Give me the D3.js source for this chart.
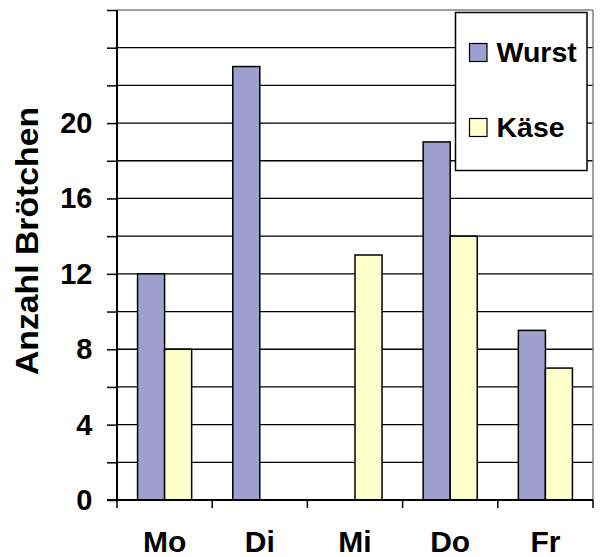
<!DOCTYPE html>
<html><head><meta charset="utf-8">
<script src="https://cdn.jsdelivr.net/npm/d3@7"></script>
<style>
html,body{margin:0;padding:0;background:#fff;}
svg text{font-family:"Liberation Sans",Arial,sans-serif;font-weight:bold;fill:#000;}
</style></head>
<body>
<svg id="chart" width="601" height="557"></svg>
<script>
const categories = ["Mo", "Di", "Mi", "Do", "Fr"];
const seriesNames = ["Wurst", "Käse"];
const wurst = [12, 23, 0, 19, 9];
const kaese = [8, 0, 13, 14, 7];
const yTicks = [0, 4, 8, 12, 16, 20];
const yGrid = [2, 4, 6, 8, 10, 12, 14, 16, 18, 20, 22, 24];
const colors = ["#9E9FCE", "#FFFFCC"];
const yTitle = "Anzahl Brötchen";

const svg = d3.select("#chart");
const L = 117, R = 593, T = 10, B = 500;

const x = d3.scaleBand().domain(categories).range([L, R]).padding(0);
const bw = x.bandwidth();
const x1 = d3.scaleBand().domain(seriesNames).range([0.216 * bw, 0.784 * bw]).padding(0);
const y = d3.scaleLinear().domain([0, 26]).range([B, T]);

// gridlines
svg.append("g").selectAll("line").data(yGrid).join("line")
  .attr("x1", L).attr("x2", R).attr("y1", d => y(d)).attr("y2", d => y(d))
  .attr("stroke", "#000").attr("stroke-width", 1.3);

// plot border (top/right gray)
svg.append("line").attr("x1", L).attr("x2", R).attr("y1", y(26)).attr("y2", y(26))
  .attr("stroke", "#808080").attr("stroke-width", 1.5);
svg.append("line").attr("x1", R).attr("x2", R).attr("y1", y(26)).attr("y2", B)
  .attr("stroke", "#808080").attr("stroke-width", 1.5);

// bars
const data = categories.map((c, i) => ({ cat: c, vals: [
  { s: seriesNames[0], v: wurst[i], c: colors[0] },
  { s: seriesNames[1], v: kaese[i], c: colors[1] }
]}));
const groups = svg.append("g").selectAll("g").data(data).join("g")
  .attr("transform", d => `translate(${x(d.cat)},0)`);
groups.selectAll("rect").data(d => d.vals.filter(v => v.v > 0)).join("rect")
  .attr("x", d => x1(d.s)).attr("width", x1.bandwidth())
  .attr("y", d => y(d.v)).attr("height", d => y(0) - y(d.v))
  .attr("fill", d => d.c).attr("stroke", "#000").attr("stroke-width", 1.5);

// y axis
const yAxis = d3.axisLeft(y).tickValues(d3.range(0, 27, 2)).tickSize(10).tickFormat("");
const ya = svg.append("g").attr("transform", `translate(${L},0)`).call(yAxis);
ya.select(".domain").attr("stroke", "#000").attr("stroke-width", 2).attr("d", `M0,${T}V${B}`);
ya.selectAll(".tick line").attr("stroke", "#000").attr("stroke-width", 1.5);

svg.append("g").selectAll("text").data(yTicks).join("text")
  .attr("x", 92.5).attr("y", d => y(d) + 10)
  .attr("text-anchor", "end").attr("font-size", 29).text(d => d);

// x axis
const xa = svg.append("g").attr("transform", `translate(0,${B})`);
xa.append("line").attr("x1", L - 10).attr("x2", R).attr("y1", 0).attr("y2", 0)
  .attr("stroke", "#000").attr("stroke-width", 2);
const xTickPos = categories.map(c => x(c)).concat([R]);
xa.selectAll("line.t").data(xTickPos).join("line").attr("class", "t")
  .attr("x1", d => d).attr("x2", d => d).attr("y1", 0).attr("y2", 8)
  .attr("stroke", "#000").attr("stroke-width", 1.5);
xa.selectAll("text").data(categories).join("text")
  .attr("x", d => x(d) + bw / 2).attr("y", 52)
  .attr("text-anchor", "middle").attr("font-size", 30).text(d => d);

// y title
svg.append("text")
  .attr("transform", "translate(37.5,241) rotate(-90)")
  .attr("text-anchor", "middle").attr("font-size", 31)
  .attr("textLength", 268).attr("lengthAdjust", "spacingAndGlyphs")
  .text(yTitle);

// legend
const lg = svg.append("g");
lg.append("rect").attr("x", 455.5).attr("y", 12.5).attr("width", 131.5).attr("height", 158)
  .attr("fill", "#fff").attr("stroke", "#000").attr("stroke-width", 1.5);
const legY = [43.5, 118.5];
const li = lg.selectAll("g.item").data(seriesNames).join("g").attr("class", "item")
  .attr("transform", (d, i) => `translate(469.5,${legY[i]})`);
li.append("rect").attr("width", 17.5).attr("height", 18).attr("fill", (d, i) => colors[i])
  .attr("stroke", "#000").attr("stroke-width", 1.2);
li.append("text").attr("x", 27).attr("y", 18.8).attr("font-size", 28.5).text(d => d);
</script>
</body></html>
